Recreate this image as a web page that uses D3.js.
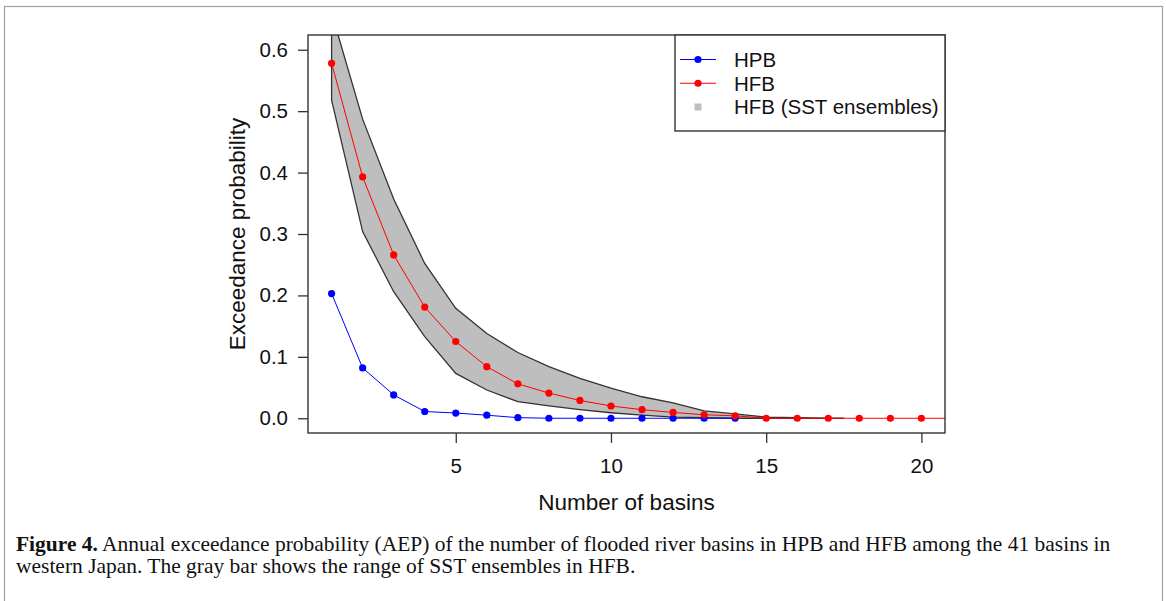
<!DOCTYPE html>
<html>
<head>
<meta charset="utf-8">
<script src="https://cdn.jsdelivr.net/npm/d3@7"></script>
<style>
  body { margin: 0; background: #fff; }
  text { font-family: "Liberation Sans", Arial, sans-serif; fill: #111; }
  .caption { font-family: "Liberation Serif", "Times New Roman", serif; }
</style>
</head>
<body>
<div id="chart"></div>
<script>
// basins on the x axis
const basins = d3.range(1, 22)
const hpb = [0.203, 0.082, 0.038, 0.011, 0.0085, 0.005, 0.001, 0, 0, 0, 0, 0, 0, 0]
const hfb = [0.578, 0.393, 0.266, 0.181, 0.125, 0.084, 0.056, 0.041, 0.029, 0.020,
             0.014, 0.0095, 0.0057, 0.004, 0, 0, 0, 0, 0, 0, 0]
// range of SST ensembles (gray band)
const bandBasins = [1, 2, 3, 4, 5, 6, 7, 8, 9, 10, 11, 12, 13, 14, 15, 16, 17, 17.5]
const bandLow = [0.518, 0.304, 0.206, 0.133, 0.073, 0.046, 0.027, 0.020, 0.014, 0.009,
                 0.005, 0.002, 0.001, 0, 0, 0, 0, 0]
const bandHigh = [0.66, 0.487, 0.357, 0.252, 0.179, 0.138, 0.107, 0.084, 0.065, 0.049,
                  0.035, 0.025, 0.012, 0.007, 0.002, 0.001, 0, 0]
const yTicks = [0, 0.1, 0.2, 0.3, 0.4, 0.5, 0.6]
const xTicks = [5, 10, 15, 20]
const legendLabels = ["HPB", "HFB", "HFB (SST ensembles)"]
const captionBold = "Figure 4."
const captionLine1 = " Annual exceedance probability (AEP) of the number of flooded river basins in HPB and HFB among the 41 basins in"
const captionLine2 = "western Japan. The gray bar shows the range of SST ensembles in HFB."

const W = 1166, H = 601
const margin = { top: 35, left: 308 }
const width = 637
const height = 398

const root = d3.select("#chart").append("svg")
  .attr("width", W)
  .attr("height", H)

// page frame
root.append("rect")
  .attr("x", 4.5).attr("y", 6.5)
  .attr("width", 1158).attr("height", 700)
  .attr("fill", "none")
  .attr("stroke", "#a0a0a0")
  .attr("stroke-width", 1.2)

const svg = root.append("g")
  .attr("transform", `translate(${margin.left},${margin.top})`)

// R style: 4% extension on both axes
const x = d3.scaleLinear().domain([0.24, 20.76]).range([0, width])
const y = d3.scaleLinear().domain([-0.024, 0.624]).range([height, 0])

svg.append("clipPath").attr("id", "plotclip")
  .append("rect").attr("width", width).attr("height", height)

const plot = svg.append("g").attr("clip-path", "url(#plotclip)")

// gray band
const bandData = bandBasins.map((b, i) => ({ b, lo: bandLow[i], hi: bandHigh[i] }))
const poly = bandData.map(d => [x(d.b), y(d.lo)])
  .concat(bandData.slice().reverse().map(d => [x(d.b), y(d.hi)]))
plot.append("path")
  .attr("d", "M" + poly.join("L") + "Z")
  .attr("fill", "#bebebe")
  .attr("stroke", "#333")
  .attr("stroke-width", 1.3)

const line = d3.line().x(d => x(d[0])).y(d => y(d[1]))

function series(vals, color) {
  const pts = vals.map((v, i) => [basins[i], v])
  plot.append("path")
    .attr("d", line(pts))
    .attr("fill", "none")
    .attr("stroke", color)
    .attr("stroke-width", 1)
  plot.append("g").selectAll("circle")
    .data(pts)
    .join("circle")
    .attr("cx", d => x(d[0]))
    .attr("cy", d => y(d[1]))
    .attr("r", 3.6)
    .attr("fill", color)
}
series(hpb, "#0000ff")
series(hfb, "#ff0000")

// axes
const yAxis = svg.append("g")
  .call(d3.axisLeft(y).tickValues(yTicks).tickSize(10).tickPadding(10).tickFormat(d3.format(".1f")))
const xAxis = svg.append("g")
  .attr("transform", `translate(0,${height})`)
  .call(d3.axisBottom(x).tickValues(xTicks).tickSize(10).tickPadding(15))
for (const ax of [xAxis, yAxis]) {
  ax.select(".domain").remove()
  ax.selectAll("line").attr("stroke", "#333").attr("stroke-width", 1.3)
  ax.selectAll("text")
    .style("font-family", '"Liberation Sans", Arial, sans-serif')
    .style("font-size", "20.5px")
    .attr("fill", "#111")
}

svg.append("rect")
  .attr("width", width).attr("height", height)
  .attr("fill", "none")
  .attr("stroke", "#333")
  .attr("stroke-width", 1.4)

// axis titles
svg.append("text")
  .attr("x", width / 2).attr("y", 475)
  .attr("text-anchor", "middle")
  .style("font-size", "22.5px")
  .text("Number of basins")
svg.append("text")
  .attr("transform", `translate(${-71},${height / 2}) rotate(-90)`)
  .attr("text-anchor", "middle")
  .attr("dy", "0.36em")
  .style("font-size", "22.5px")
  .text("Exceedance probability")

// legend
const legend = svg.append("g").attr("transform", `translate(${367},0)`)
legend.append("rect")
  .attr("width", 270).attr("height", 96)
  .attr("fill", "#fff")
  .attr("stroke", "#333")
  .attr("stroke-width", 1.4)
const legendColors = ["#0000ff", "#ff0000", "#bebebe"]
const ly = d3.scalePoint().domain(legendLabels).range([24.5, 72])
legendLabels.forEach((lab, i) => {
  const g = legend.append("g").attr("transform", `translate(0,${ly(lab)})`)
  if (i < 2) {
    g.append("line").attr("x1", 5).attr("x2", 41)
      .attr("stroke", legendColors[i]).attr("stroke-width", 1)
    g.append("circle").attr("cx", 23).attr("r", 3.6).attr("fill", legendColors[i])
  } else {
    g.append("rect").attr("x", 19.5).attr("y", -3.5).attr("width", 7).attr("height", 7)
      .attr("fill", legendColors[i])
  }
  g.append("text")
    .attr("x", 59).attr("dy", "0.36em")
    .style("font-size", "20.5px")
    .text(lab)
})

// caption
const cap1 = root.append("text")
  .attr("class", "caption")
  .attr("x", 16).attr("y", 551)
  .style("font-size", "17px")
cap1.append("tspan").style("font-weight", "bold").text(captionBold)
cap1.append("tspan").text(captionLine1)
const w1 = cap1.node().getComputedTextLength()
const fs = 17 * 1095 / w1
cap1.style("font-size", fs + "px")
root.append("text")
  .attr("class", "caption")
  .attr("x", 16).attr("y", 573)
  .style("font-size", fs + "px")
  .text(captionLine2)
</script>
</body>
</html>
